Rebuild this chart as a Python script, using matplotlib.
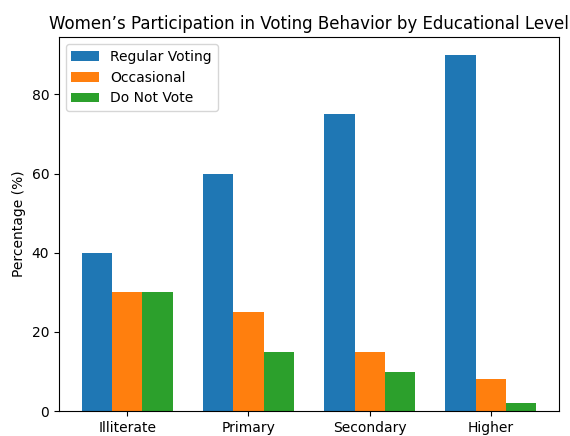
import matplotlib
matplotlib.use("Agg")
import matplotlib.pyplot as plt
import numpy as np

levels = ["Illiterate", "Primary", "Secondary", "Higher"]
regular = [40, 60, 75, 90]
occasional = [30, 25, 15, 8]
no_vote = [30, 15, 10, 2]

x = np.arange(len(levels))
width = 0.25

fig, ax = plt.subplots(figsize=(5.7, 4.36), dpi=100)
ax.bar(x - width, regular, width, label="Regular Voting", color="#1f77b4")
ax.bar(x, occasional, width, label="Occasional", color="#ff7f0e")
ax.bar(x + width, no_vote, width, label="Do Not Vote", color="#2ca02c")

ax.set_xticks(x)
ax.set_xticklabels(levels)
ax.set_ylabel("Percentage (%)")
ax.set_title("Women\u2019s Participation in Voting Behavior by Educational Level")
ax.legend(loc="upper left")

fig.subplots_adjust(left=0.1035, right=0.981, top=0.915, bottom=0.057)
plt.savefig("out.png")
